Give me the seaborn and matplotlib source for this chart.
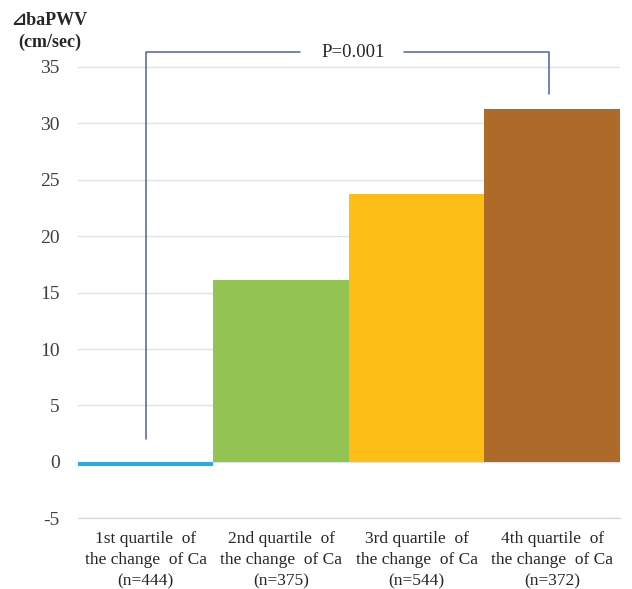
import numpy as np
import pandas as pd
import matplotlib.pyplot as plt
import seaborn as sns

# ~~~~~~~~~~~~~ data ~~~~~~~~~~~~~
quartiles = ['1st quartile  of\nthe change  of Ca\n(n=444)',
             '2nd quartile  of\nthe change  of Ca\n(n=375)',
             '3rd quartile  of\nthe change  of Ca\n(n=544)',
             '4th quartile  of\nthe change  of Ca\n(n=372)']
delta_bapwv = [-0.35, 16.1, 23.7, 31.3]
bar_colours = ['#29abe2', '#92c353', '#fdbf15', '#ae6a28']
y_ticks = [-5, 0, 5, 10, 15, 20, 25, 30, 35]
p_text = 'P=0.001'

df = pd.DataFrame({'quartile': quartiles, 'delta': delta_bapwv})

sns.set_style('white')
plt.rcParams['font.family'] = ['Liberation Serif', 'DejaVu Serif', 'DejaVu Sans', 'Noto Sans CJK JP']

fig = plt.figure(figsize=(6.32, 5.89), dpi=100)
ax = fig.add_axes([0.123, 0.120, 0.858, 0.795])

sns.barplot(data=df, x='quartile', y='delta', hue='quartile', palette=bar_colours,
            width=1.0, legend=False, saturation=1, linewidth=0, ax=ax, zorder=3)

ax.set_ylim(-5, 36.5)
ax.set_xlim(-0.5, 3.5)
ax.set_yticks(y_ticks)
ax.set_yticklabels([str(t) for t in y_ticks], fontsize=14, color='#404040')
ax.tick_params(axis='y', length=0, pad=13)
ax.tick_params(axis='x', length=0, pad=9, labelsize=12.5, labelcolor='#262626')
for lab in ax.get_xticklabels():
    lab.set_linespacing(1.45)
ax.grid(axis='y', color='#dde3ea', linewidth=1, zorder=0)
ax.set_axisbelow(True)
for s in ['top', 'right', 'left']:
    ax.spines[s].set_visible(False)
ax.spines['bottom'].set_color('#d0d6de')
ax.set_xlabel('')
ax.set_ylabel('')

# y axis title in the top-left corner
fig.text(0.078, 0.946, '\u22bfbaPWV\n(cm/sec)', ha='center', va='center', fontsize=13,
         fontweight='bold', color='#262626', linespacing=1.35,
         family=['Liberation Serif', 'DejaVu Sans', 'Noto Sans CJK JP'])

# significance bracket between 1st and 4th quartile
bracket = '#4a62a0'
x_left, x_right = 0.0, 2.98
y_top = 36.3
ax.plot([x_left, x_left, 1.14], [2.0, y_top, y_top], color=bracket, lw=1.1, clip_on=False, zorder=4)
ax.plot([1.91, x_right, x_right], [y_top, y_top, 32.6], color=bracket, lw=1.1, clip_on=False, zorder=4)
ax.text(1.53, y_top, p_text, ha='center', va='center', fontsize=13.5, color='#262626', clip_on=False)

fig.savefig('out.png', dpi=100)
